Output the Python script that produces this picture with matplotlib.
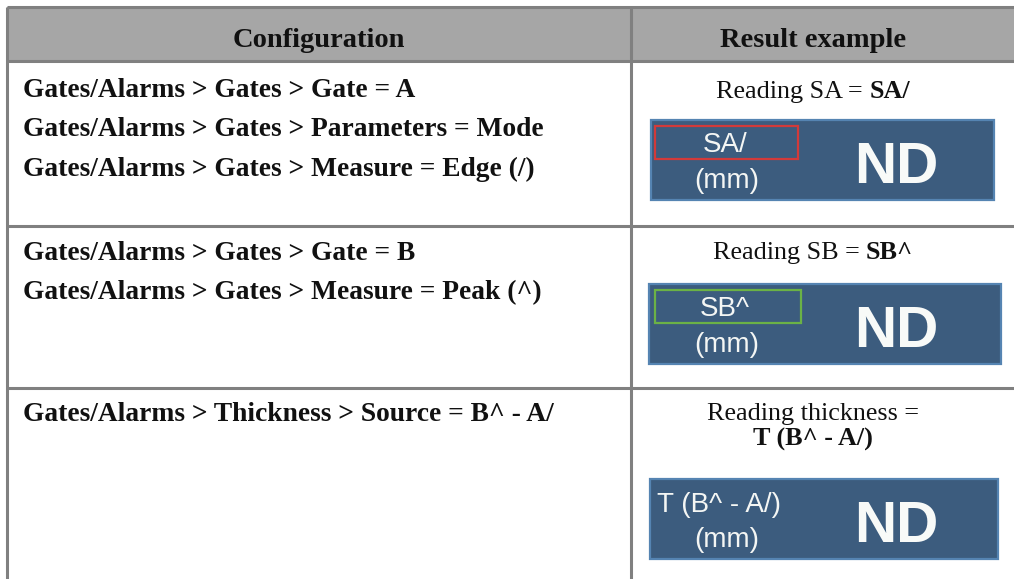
import matplotlib
matplotlib.use("Agg")
import matplotlib.pyplot as plt
from matplotlib.patches import Rectangle

W, H = 1014, 579

# ---- table content ----
headers = ["Configuration", "Result example"]
config_rows = [
    ["Gates/Alarms > Gates > Gate = A",
     "Gates/Alarms > Gates > Parameters = Mode",
     "Gates/Alarms > Gates > Measure = Edge (/)"],
    ["Gates/Alarms > Gates > Gate = B",
     "Gates/Alarms > Gates > Measure = Peak (^)"],
    ["Gates/Alarms > Thickness > Source = B^ - A/"],
]
# each caption line: list of (text, weight)
result_captions = [
    [[("Reading SA =", "normal"), ("SA/", "bold")]],
    [[("Reading SB =", "normal"), ("SB^", "bold")]],
    [[("Reading thickness =", "normal")], [("T (B^ - A/)", "bold")]],
]
widget_labels = ["SA/", "SB^", "T (B^ - A/)"]
widget_units = ["(mm)", "(mm)", "(mm)"]
widget_values = ["ND", "ND", "ND"]
widget_frames = ["#d23a3a", "#6bb246", None]

# ---- layout (pixels) ----
col_x = [7, 631]
row_y = [7, 61, 226, 388]
line_col = "#808080"
header_bg = "#a6a6a6"
serif = "Liberation Serif"
sans = "Liberation Sans"

config_baselines = [[97, 136.5, 176], [260, 299.5], [421]]
caption_baselines = [[98], [259], [420, 446]]
widget_rects = [(651, 120, 343, 80), (649, 284, 352, 80), (650, 479, 348, 80)]
frame_rects = [(655, 126, 143, 33), (655, 290, 146, 33), None]

fig = plt.figure(figsize=(W / 100, H / 100), dpi=100)
ax = fig.add_axes([0, 0, 1, 1])
ax.set_xlim(0, W)
ax.set_ylim(H, 0)
ax.axis("off")
renderer = fig.canvas.get_renderer()


def tw(s, **kw):
    t = ax.text(0, 0, s, **kw)
    w = t.get_window_extent(renderer).width
    t.remove()
    return w


# fit font sizes to the reference widths
cfg_size = 10 * 394 / tw(config_rows[0][0], fontsize=10, family=serif, weight="bold")
hdr_size = 10 * 173 / tw(headers[0], fontsize=10, family=serif, weight="bold")
cap_w10 = (tw("Reading SA =", fontsize=10, family=serif)
           + tw("SA/", fontsize=10, family=serif, weight="bold") + 2.5)
cap_size = 10 * 193 / cap_w10

# header background and lines
ax.add_patch(Rectangle((col_x[0], row_y[0]), W - col_x[0], row_y[1] - row_y[0],
                       facecolor=header_bg, edgecolor="none", zorder=0))
for y in row_y:
    ax.plot([col_x[0], W], [y, y], color=line_col, lw=2.2, solid_capstyle="butt")
for x in col_x:
    ax.plot([x, x], [row_y[0], H], color=line_col, lw=2.2, solid_capstyle="butt")

# headers
ax.text((col_x[0] + col_x[1]) / 2, 47, headers[0], ha="center", va="baseline",
        fontsize=hdr_size, family=serif, weight="bold", color="#111111")
ax.text(813, 47, headers[1], ha="center", va="baseline",
        fontsize=hdr_size, family=serif, weight="bold", color="#111111")

# configuration column
for lines, bls in zip(config_rows, config_baselines):
    for s, b in zip(lines, bls):
        ax.text(23, b, s, ha="left", va="baseline", fontsize=cfg_size,
                family=serif, weight="bold", color="#111111")

# result captions (mixed weights, centered)
space = 0.25 * cap_size * 100 / 72
for caps, bls in zip(result_captions, caption_baselines):
    for parts, b in zip(caps, bls):
        widths = [tw(s, fontsize=cap_size, family=serif, weight=wt) for s, wt in parts]
        total = sum(widths) + space * (len(parts) - 1)
        x = 813 - total / 2
        for (s, wt), w in zip(parts, widths):
            ax.text(x, b, s, ha="left", va="baseline", fontsize=cap_size,
                    family=serif, weight=wt, color="#111111")
            x += w + space

# reading widgets
for i, (rx, ry, rw, rh) in enumerate(widget_rects):
    ax.add_patch(Rectangle((rx, ry), rw, rh, facecolor="#3c5c7e",
                           edgecolor="#5584b2", lw=1.6, zorder=2))
    fr = frame_rects[i]
    if fr is not None:
        ax.add_patch(Rectangle((fr[0], fr[1]), fr[2], fr[3], facecolor="none",
                               edgecolor=widget_frames[i], lw=1.6, zorder=3))
    if i < 2:
        ax.text(725, ry + 32, widget_labels[i], ha="center", va="baseline",
                fontsize=20, family=sans, color="#f4f6f4", zorder=4)
    else:
        ax.text(657, ry + 33, widget_labels[i], ha="left", va="baseline",
                fontsize=20, family=sans, color="#f4f6f4", zorder=4)
    ax.text(727, ry + 68, widget_units[i], ha="center", va="baseline",
            fontsize=20, family=sans, color="#f4f6f4", zorder=4)
    ax.text(896, ry + 63, widget_values[i], ha="center", va="baseline",
            fontsize=42, family=sans, weight="bold", color="#f8faf8", zorder=4)

fig.savefig("out.png", dpi=100, facecolor="white")
